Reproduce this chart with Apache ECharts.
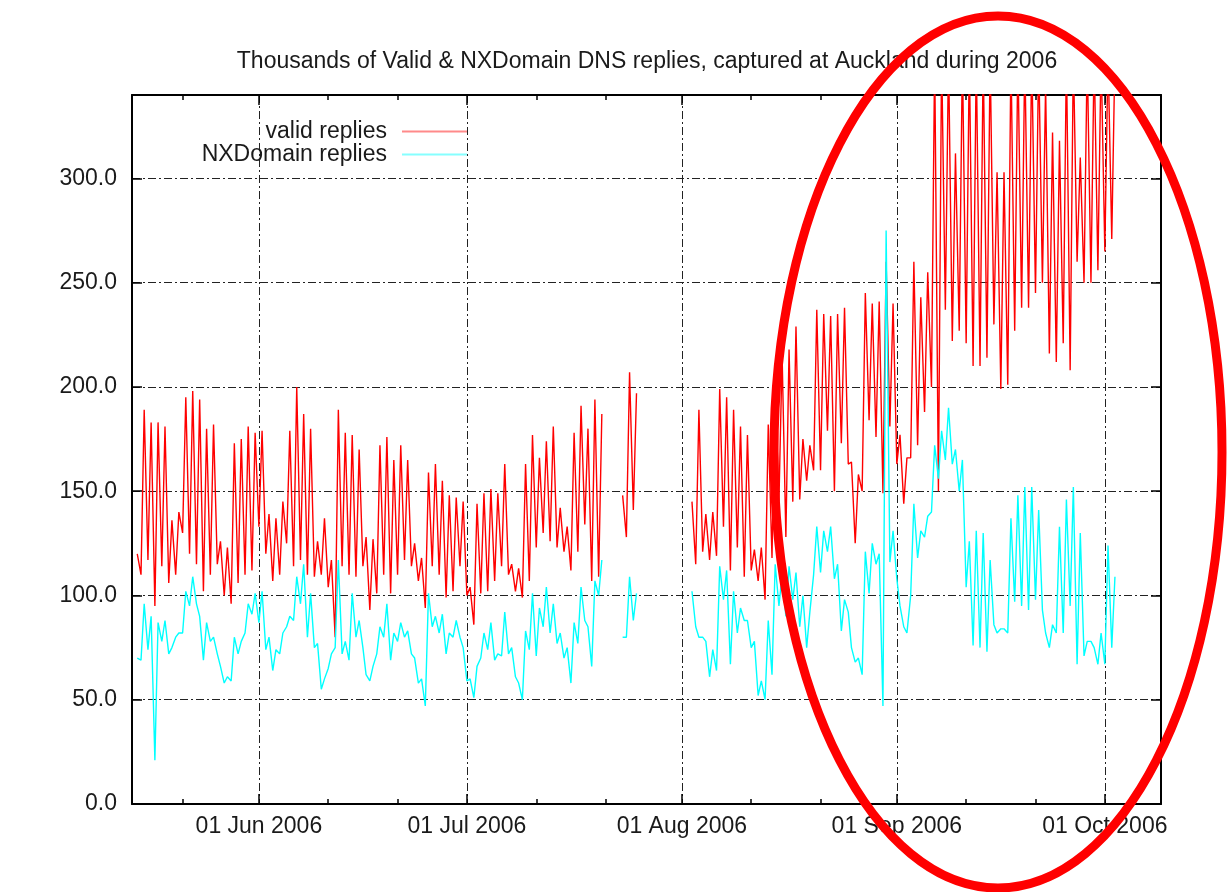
<!DOCTYPE html>
<html><head><meta charset="utf-8">
<script src="https://cdn.jsdelivr.net/npm/echarts@6/dist/echarts.min.js"></script>
<style>html,body{margin:0;padding:0;background:#fff}#chart{width:1230px;height:892px}</style>
</head><body><div id="chart"></div>
<script>
// ---- data (values in thousands of replies), one low (night) and one peak (day) reading per day ----
const START_DATE = '2006-05-14';   // day index 0
const REF_DATE = '2006-06-01';     // x axis measured in days from this date
const PEAK_HOUR = 11;              // hour of the daily peak reading
const X_MIN = -18.3, X_MAX = 130.1;

const validLow = [null,110,117,95,114,106,110,130,120,115,102,110,115,100,96,106,110,112,133,120,
  107,110,125,114,117,110,109,110,104,80,114,110,109,114,93,101,110,101,110,117,
  114,107,94,114,110,99,102,114,100,86,101,102,107,114,110,102,99,107,123,130,
  126,123,121,112,121,134,107,109,null,null,null,128,141,null,null,null,null,null,null,null,
  null,115,121,117,119,133,112,123,109,112,107,98,118,145,128,145,146,155,160,160,
  179,150,173,163,125,150,184,176,149,181,163,144,166,172,188,200,150,237,222,227,
  221,210,210,214,230,199,201,227,238,238,245,250,216,212,221,208,260,250,250,256,
  265,271];
const validPeak = [120,189,183,183,181,136,140,195,198,194,180,182,126,123,173,175,181,178,179,139,
  137,145,179,200,187,180,126,137,117,189,178,177,170,128,127,172,176,165,172,165,
  125,118,159,163,155,148,147,145,104,144,149,151,149,163,115,113,163,177,166,174,
  181,142,133,178,191,180,194,187,null,null,148,207,197,null,null,null,null,null,null,null,
  145,189,139,140,199,195,189,181,177,122,123,182,205,215,218,229,175,172,237,235,
  234,235,238,164,158,245,240,241,260,240,177,166,260,243,255,360,360,360,312,360,
  360,360,360,360,303,303,360,360,360,360,360,345,322,318,360,360,310,360,360,360,
  360,360];
const nxLow = [null,69,74,21,78,72,80,82,95,96,69,78,72,58,59,72,82,91,87,74,
  64,72,85,88,96,80,75,55,65,75,72,69,80,75,59,72,80,69,78,80,
  72,58,47,85,82,72,80,80,59,51,70,74,69,71,72,61,50,74,71,85,
  82,77,70,58,77,88,66,100,null,null,null,80,88,null,null,null,null,null,null,null,
  null,85,80,61,64,98,67,82,88,75,52,50,62,95,90,98,85,75,110,111,
  121,108,83,92,68,62,101,115,47,116,108,85,100,118,128,140,156,165,163,150,
  104,76,75,73,86,84,82,97,95,93,98,93,75,82,82,95,67,71,78,67,
  67,75];
const nxPeak = [70,96,90,87,88,75,82,102,109,90,87,80,66,61,80,78,96,101,102,80,
  74,82,90,109,115,101,77,60,72,117,78,101,88,62,66,85,96,82,87,83,
  70,60,101,90,91,82,88,75,60,66,82,87,72,92,75,58,83,101,94,104,
  96,82,75,87,104,85,107,117,null,null,80,109,101,null,null,null,null,null,null,null,
  102,80,78,74,114,112,102,94,88,78,59,88,115,110,114,111,100,92,133,131,
  133,115,98,75,70,121,125,120,275,131,95,82,144,131,138,172,179,190,170,165,
  126,131,130,117,82,84,137,148,152,152,141,82,86,133,146,152,130,78,75,82,
  124,109];

const seriesNames = ['valid replies', 'NXDomain replies'];
const yTicks = [0, 50, 100, 150, 200, 250, 300];
const majorTickDates = ['2006-06-01','2006-07-01','2006-08-01','2006-09-01','2006-10-01'];
const xTickLabels = ['01 Jun 2006','01 Jul 2006','01 Aug 2006','01 Sep 2006','01 Oct 2006'];
const minorTickDates = ['2006-05-21','2006-06-11','2006-06-21','2006-07-11','2006-07-21',
  '2006-08-11','2006-08-21','2006-09-11','2006-09-21'];
const titleText = 'Thousands of Valid & NXDomain DNS replies, captured at Auckland during 2006';

// ---- helpers ----
const DAY = 864e5;
function dayNum(s) { return (Date.parse(s + 'T00:00:00Z') - Date.parse(REF_DATE + 'T00:00:00Z')) / DAY; }
function build(low, peak) {
  const s0 = dayNum(START_DATE), out = [];
  for (let d = 0; d < low.length; d++) {
    out.push([s0 + d, low[d] == null ? '-' : low[d]]);
    out.push([s0 + d + PEAK_HOUR / 24, peak[d] == null ? '-' : peak[d]]);
  }
  return out;
}
const majorDays = majorTickDates.map(dayNum);
const minorDays = minorTickDates.map(dayNum);
const labelMap = {};
majorDays.forEach((d, i) => { labelMap[d] = xTickLabels[i]; });

const FONT = 'Liberation Sans';
const TXT = '#1a1a1a';
const gridLine = { show: true, lineStyle: { color: '#222', width: 1, type: [8, 3, 2, 3] } };
const axisLineStyle = { show: true, onZero: false, lineStyle: { color: '#000', width: 2 } };

function xAx(pos, major) {
  const vals = major ? majorDays : minorDays;
  return {
    type: 'value', min: X_MIN, max: X_MAX, position: pos,
    axisLine: major ? axisLineStyle : { show: false, onZero: false },
    axisTick: { show: true, inside: true, length: major ? 10 : 5, customValues: vals,
      lineStyle: { color: '#000', width: 1.5 } },
    axisLabel: (major && pos === 'bottom') ? {
      show: true, customValues: majorDays, formatter: v => labelMap[v] || '',
      fontFamily: FONT, fontSize: 23, color: TXT, margin: 11
    } : { show: false },
    splitLine: (major && pos === 'bottom') ? gridLine : { show: false }
  };
}

const chart = echarts.init(document.getElementById('chart'), null, { renderer: 'canvas' });
chart.setOption({
  backgroundColor: '#fff',
  animation: false,
  textStyle: { fontFamily: FONT },
  title: {
    text: titleText, left: 647, textAlign: 'center', top: 50, padding: 0,
    textStyle: { fontFamily: FONT, fontSize: 23, fontWeight: 'normal', color: TXT }
  },
  grid: { left: 132, right: 69, top: 95, bottom: 88, containLabel: false, outerBoundsMode: 'none' },
  legend: {
    data: [
      { name: seriesNames[0], itemStyle: { color: '#ff8a8a' } },
      { name: seriesNames[1], itemStyle: { color: '#86ffff' } }
    ],
    orient: 'vertical', align: 'right', right: 758, top: 115,
    icon: 'rect', itemWidth: 65, itemHeight: 2, itemGap: 0,
    textStyle: { fontFamily: FONT, fontSize: 23, color: TXT, padding: [0, 10, 0, 0] },
    selectedMode: false
  },
  xAxis: [xAx('bottom', true), xAx('bottom', false), xAx('top', true), xAx('top', false)],
  yAxis: [
    {
      type: 'value', min: 0, max: 340, interval: 50, position: 'left',
      axisLine: axisLineStyle,
      axisTick: { show: true, inside: true, length: 10, customValues: yTicks, lineStyle: { color: '#000', width: 1.5 } },
      axisLabel: { customValues: yTicks, formatter: v => v.toFixed(1), fontFamily: FONT, fontSize: 23, color: TXT, margin: 15 },
      splitLine: gridLine
    },
    {
      type: 'value', min: 0, max: 340, interval: 50, position: 'right',
      axisLine: axisLineStyle,
      axisTick: { show: true, inside: true, length: 10, customValues: yTicks, lineStyle: { color: '#000', width: 1.5 } },
      axisLabel: { show: false },
      splitLine: { show: false }
    }
  ],
  series: [
    { name: seriesNames[0], type: 'line', xAxisIndex: 0, yAxisIndex: 0, data: build(validLow, validPeak),
      showSymbol: false, symbol: 'none', color: '#ff0000', lineStyle: { color: '#ff0000', width: 1.4 }, z: 2 },
    { name: seriesNames[1], type: 'line', xAxisIndex: 0, yAxisIndex: 0, data: build(nxLow, nxPeak),
      showSymbol: false, symbol: 'none', color: '#00ffff', lineStyle: { color: '#00ffff', width: 1.4 }, z: 3 }
  ],
  graphic: [{
    type: 'ellipse', z: 100,
    shape: { cx: 998, cy: 452, rx: 224, ry: 436 },
    style: { fill: 'none', stroke: '#ff0000', lineWidth: 9 }
  }]
});
</script></body></html>
